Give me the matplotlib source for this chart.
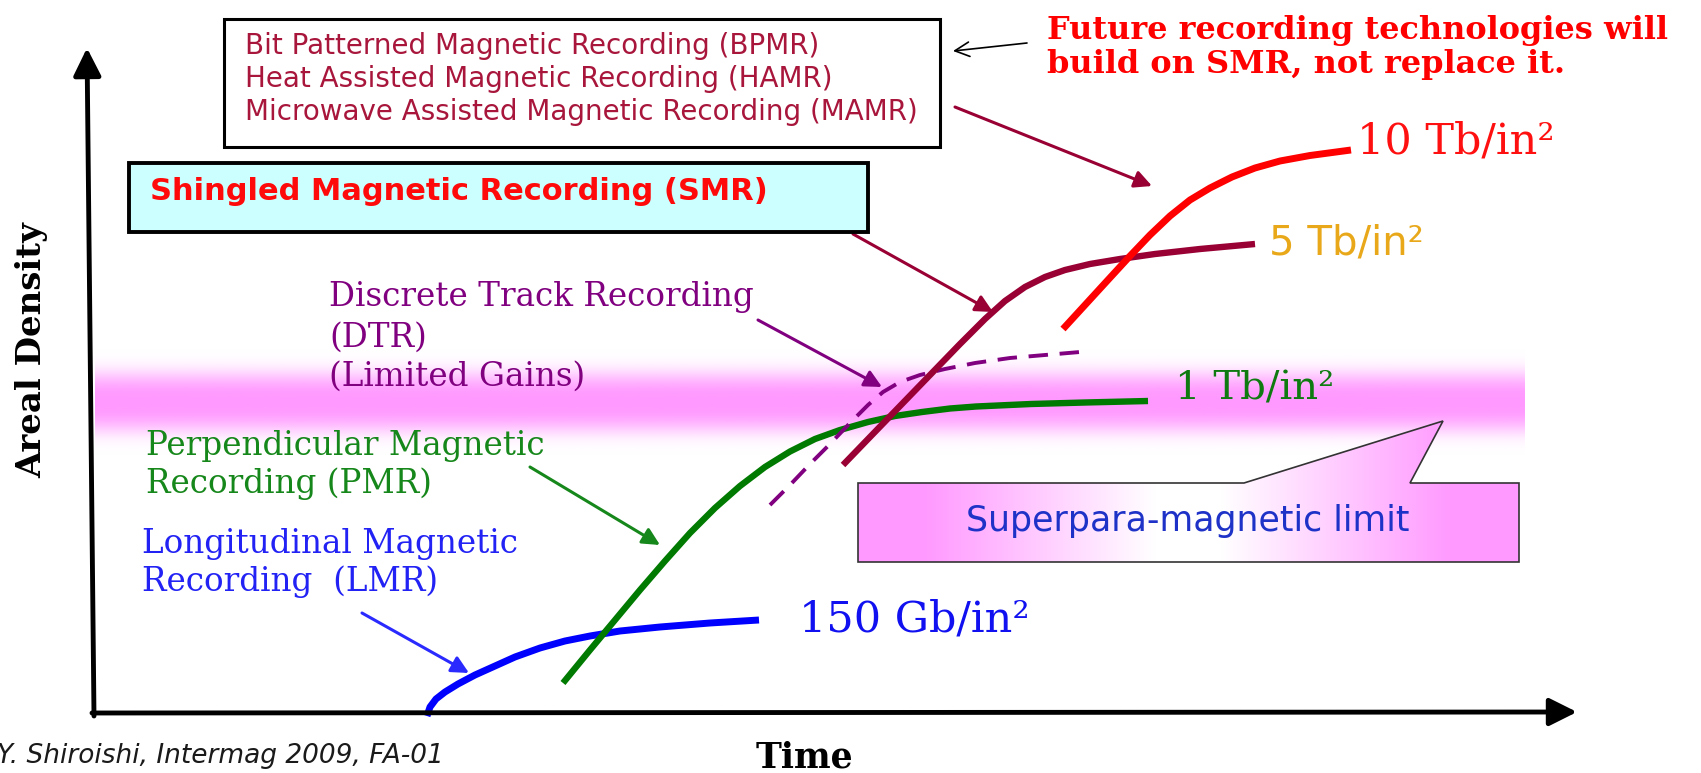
import numpy as np
import matplotlib
matplotlib.use("Agg")
import matplotlib.pyplot as plt
from matplotlib.patches import Rectangle, Polygon

# curve points (pixel units, y grows downward)
lmr_x = [427, 430, 436, 445, 458, 475, 495, 515, 540, 565, 590, 620, 660, 710, 759]
lmr_y = [716, 707, 699, 692, 684, 675, 666, 657, 648, 641, 636, 631, 627, 623, 620]

pmr_x = [563, 590, 615, 640, 665, 690, 715, 740, 765, 790, 815, 840, 868, 895,
         922, 950, 976, 1031, 1085, 1148]
pmr_y = [683, 650, 620, 590, 561, 533, 508, 486, 467, 451.5, 439, 430, 422, 416,
         412, 408.5, 406.5, 404, 402.5, 401]

dtr_x = [770, 790, 810, 830, 850, 868, 883, 900, 920, 945, 975, 1010, 1045, 1080]
dtr_y = [505, 485, 464, 444, 423, 405, 392, 382, 375, 369, 363, 358, 355, 352]

smr_x = [843, 870, 900, 930, 960, 985, 1005, 1025, 1045, 1065, 1090, 1120, 1155, 1200, 1255]
smr_y = [465, 437, 406, 375, 344, 319, 301, 287, 277, 270, 264, 259, 254, 249, 244]

fut_x = [1063, 1085, 1107, 1130, 1150, 1170, 1190, 1210, 1232, 1255, 1280, 1310, 1351]
fut_y = [329, 305, 281, 256, 235, 216, 200, 188, 177, 168, 161, 155.5, 150]

future_techs = ["Bit Patterned Magnetic Recording (BPMR)",
                "Heat Assisted Magnetic Recording (HAMR)",
                "Microwave Assisted Magnetic Recording (MAMR)"]
dtr_lines = ["Discrete Track Recording", "(DTR)", "(Limited Gains)"]
pmr_lines = ["Perpendicular Magnetic", "Recording (PMR)"]
lmr_lines = ["Longitudinal Magnetic", "Recording  (LMR)"]
header_lines = ["Future recording technologies will", "build on SMR, not replace it."]

W, H = 1701, 773
fig = plt.figure(figsize=(W / 100, H / 100), dpi=100)
ax = fig.add_axes([0, 0, 1, 1])
ax.set_xlim(0, W)
ax.set_ylim(H, 0)
ax.axis("off")

SERIF = "DejaVu Serif"
SANS = "DejaVu Sans"
pink = np.array([1.0, 0.6, 1.0])

# superparamagnetic band (pink, fading up and down)
yy = np.linspace(345, 460, 200)
band = np.zeros((len(yy), 1, 4))
band[..., :3] = pink
band[:, 0, 3] = np.exp(-(np.abs(yy - 402) / 30.0) ** 3)
ax.imshow(band, extent=[95, 1524, 460, 345], aspect="auto", zorder=0.5)

# axes with arrow heads
ax.annotate("", xy=(87, 48), xytext=(94, 716),
            arrowprops=dict(arrowstyle="-|>", lw=3.5, color="black",
                            mutation_scale=42, shrinkA=0, shrinkB=0), zorder=4)
ax.annotate("", xy=(1577, 712), xytext=(92, 713),
            arrowprops=dict(arrowstyle="-|>", lw=3.5, color="black",
                            mutation_scale=42, shrinkA=0, shrinkB=0), zorder=4)

# curves
ax.plot(lmr_x, lmr_y, color="#0000FF", lw=5, solid_capstyle="butt", zorder=3)
ax.plot(pmr_x, pmr_y, color="#007A00", lw=4.6, solid_capstyle="butt", zorder=3)
ax.plot(dtr_x, dtr_y, color="#800080", lw=2.8, dashes=(5, 3), zorder=3)
ax.plot(smr_x, smr_y, color="#990033", lw=4.6, solid_capstyle="butt", zorder=3)
ax.plot(fut_x, fut_y, color="#FF0000", lw=5, solid_capstyle="butt", zorder=3)

# density labels
ax.text(799, 620, "150 Gb/in²", color="#1010F0", fontsize=31, family=SERIF, va="center")
ax.text(1175, 389, "1 Tb/in²", color="#0E7A10", fontsize=29, family=SERIF, va="center")
ax.text(1269, 244, "5 Tb/in²", color="#E8A81A", fontsize=29, family=SANS, va="center")
ax.text(1357, 142, "10 Tb/in²", color="#FF1010", fontsize=31, family=SERIF, va="center")

# technology labels
for s, y in zip(dtr_lines, [297, 338, 377]):
    ax.text(329, y, s, color="#800080", fontsize=23.5, family=SERIF, va="center", zorder=5)
for s, y in zip(pmr_lines, [446, 484]):
    ax.text(146, y, s, color="#16871A", fontsize=23.5, family=SERIF, va="center", zorder=5)
for s, y in zip(lmr_lines, [544, 582]):
    ax.text(142, y, s, color="#2222F5", fontsize=23.5, family=SERIF, va="center", zorder=5)

# label arrows
arrow_list = [
    ((1027, 43), (953, 51), "black", 1.2, "->"),
    ((955, 107), (1152, 186), "#990033", 2.2, "-|>"),
    ((853, 234), (993, 312), "#990033", 2.2, "-|>"),
    ((758, 320), (882, 387), "#800080", 2.2, "-|>"),
    ((530, 467), (660, 545), "#16871A", 2.2, "-|>"),
    ((362, 613), (469, 673), "#2A2AFF", 2.2, "-|>"),
]
for tail, head, c, lw, style in arrow_list:
    ax.annotate("", xy=head, xytext=tail,
                arrowprops=dict(arrowstyle=style, color=c, lw=lw,
                                mutation_scale=26, shrinkA=0, shrinkB=0), zorder=4)

# future technologies box
ax.add_patch(Rectangle((224, 19), 716, 128, facecolor="white",
                       edgecolor="black", lw=2.2, zorder=4))
for s, y in zip(future_techs, [46, 79, 112]):
    ax.text(245, y, s, color="#A8163C", fontsize=20, family=SANS, va="center", zorder=5)

# SMR box
ax.add_patch(Rectangle((129, 163), 739, 69, facecolor="#CCFFFF",
                       edgecolor="black", lw=2.8, zorder=4))
ax.text(150, 192, "Shingled Magnetic Recording (SMR)", color="#FF0A0A",
        fontsize=22, family=SANS, weight="bold", va="center", zorder=5)

# header note
for s, y in zip(header_lines, [30, 64]):
    ax.text(1047, y, s, color="#FF0000", fontsize=23, family=SERIF,
            weight="bold", va="center", zorder=5)

# superparamagnetic limit callout
callout = Polygon([(858, 483), (1244, 483), (1443, 421), (1410, 483),
                   (1519, 483), (1519, 562), (858, 562)], closed=True,
                  facecolor="none", edgecolor="#333333", lw=1.2, zorder=6)
ax.add_patch(callout)
t = np.linspace(0, 1, 400)
w = np.clip((np.abs(t - 0.5) * 2 - 0.1) / 0.7, 0, 1)
grad = np.ones((1, len(t), 3))
grad[0] = 1 - w[:, None] * (1 - pink)
im = ax.imshow(grad, extent=[858, 1519, 562, 421], aspect="auto", zorder=5)
im.set_clip_path(callout)
ax.text(1188, 521, "Superpara-magnetic limit", color="#1E32C8", fontsize=25,
        family=SANS, ha="center", va="center", zorder=7)

# axis titles and source
ax.text(32, 350, "Areal Density", rotation=90, fontsize=24.5, family=SERIF,
        weight="bold", ha="center", va="center")
ax.text(804, 768, "Time", fontsize=25, family=SERIF, weight="bold",
        ha="center", va="baseline")
ax.text(-3, 756, "Y. Shiroishi, Intermag 2009, FA-01", fontsize=19,
        family=SANS, style="italic", color="#1A1A1A", va="center")

ax.set_xlim(0, W)
ax.set_ylim(H, 0)
fig.savefig("out.png", dpi=100)
